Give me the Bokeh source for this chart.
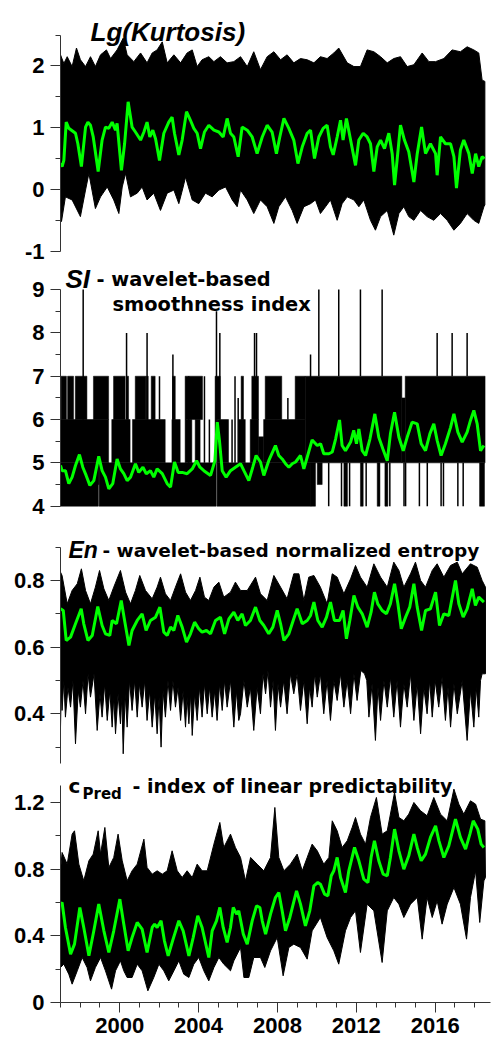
from bokeh.plotting import figure
from bokeh.layouts import column
from bokeh.models import Range1d, FixedTicker
from bokeh.core.properties import value
from bokeh.embed import file_html
from bokeh.resources import INLINE

# ---------------- values ----------------
X_TICKS = [2000, 2004, 2008, 2012, 2016]
X_MINOR = list(range(1997, 2019))
X_LABELS = ["2000", "2004", "2008", "2012", "2016"]

KURT_TICKS = [-1, 0, 1, 2]
KURT_MINOR = [-0.5, 0.5, 1.5, 2.5]
KURT_LABELS = ["-1", "0", "1", "2"]
SI_TICKS = [4, 5, 6, 7, 8, 9]
SI_MINOR = [4.5, 5.5, 6.5, 7.5, 8.5]
SI_LABELS = ["4", "5", "6", "7", "8", "9"]
EN_TICKS = [0.4, 0.6, 0.8]
EN_MINOR = [0.3, 0.5, 0.7, 0.9]
EN_LABELS = ["0.4", "0.6", "0.8"]
CP_TICKS = [0, 0.4, 0.8, 1.2]
CP_MINOR = [0.2, 0.6, 1.0]
CP_LABELS = ["0", "0.4", "0.8", "1.2"]

# Lg(Kurtosis): upper / lower edge of the daily black band, and the green smoothed curve
K_HI = [(1997.0, 2.18), (1997.17, 2.04), (1997.34, 2.15), (1997.59, 1.99), (1997.81, 2.29), (1998.01, 2.10),
        (1998.27, 1.99), (1998.52, 2.15), (1998.77, 1.99), (1999.03, 2.18), (1999.33, 2.26), (1999.54, 2.12),
        (1999.87, 2.26), (2000.18, 2.45), (2000.38, 2.18), (2000.72, 2.07), (2001.06, 2.21), (2001.39, 2.05),
        (2001.65, 2.21), (2001.9, 2.26), (2002.16, 2.39), (2002.41, 2.05), (2002.75, 2.18), (2003.09, 2.05),
        (2003.42, 2.21), (2003.68, 2.26), (2003.93, 1.99), (2004.18, 2.10), (2004.52, 2.15), (2004.78, 2.07),
        (2005.11, 2.15), (2005.45, 2.05), (2005.79, 2.07), (2006.13, 2.15), (2006.47, 1.99), (2006.8, 2.23),
        (2007.14, 1.94), (2007.48, 2.15), (2007.82, 2.23), (2008.16, 2.10), (2008.49, 2.18), (2008.83, 2.05),
        (2009.17, 2.12), (2009.51, 2.10), (2009.85, 2.05), (2010.18, 2.15), (2010.52, 2.12), (2010.86, 2.21),
        (2011.11, 2.29), (2011.54, 2.05), (2011.88, 1.99), (2012.21, 1.99), (2012.55, 2.26), (2012.89, 2.23),
        (2013.23, 2.15), (2013.57, 2.05), (2013.9, 2.12), (2014.24, 2.15), (2014.58, 1.99), (2014.92, 2.02),
        (2015.34, 2.21), (2015.68, 2.07), (2016.02, 2.07), (2016.44, 2.12), (2016.86, 2.26), (2017.28, 2.23),
        (2017.62, 2.31), (2017.96, 2.26), (2018.21, 2.21), (2018.38, 1.77), (2018.52, 1.75)]
K_LO = [(1997.0, -0.23), (1997.05, -0.52), (1997.25, -0.12), (1997.59, -0.17), (1998.01, -0.44), (1998.27, -0.01),
        (1998.44, 0.26), (1998.77, -0.31), (1999.03, -0.12), (1999.37, 0.04), (1999.7, -0.17), (1999.96, -0.39),
        (2000.13, 0.04), (2000.3, 0.26), (2000.55, -0.12), (2000.89, -0.06), (2001.14, 0.04), (2001.39, -0.17),
        (2001.73, -0.06), (2002.07, -0.34), (2002.41, -0.06), (2002.75, -0.01), (2003.0, -0.23), (2003.22, 0.04),
        (2003.34, 0.2), (2003.68, -0.17), (2004.01, -0.23), (2004.35, -0.06), (2004.69, -0.12), (2005.03, -0.01),
        (2005.37, 0.04), (2005.71, -0.17), (2005.96, -0.28), (2006.13, -0.01), (2006.47, -0.17), (2006.8, -0.39),
        (2007.14, -0.17), (2007.48, -0.28), (2007.82, -0.55), (2008.07, -0.28), (2008.41, -0.12), (2008.75, -0.34),
        (2009.0, -0.55), (2009.34, -0.28), (2009.68, -0.23), (2009.93, -0.17), (2010.18, -0.39), (2010.44, -0.28),
        (2010.69, -0.17), (2011.03, -0.5), (2011.28, -0.23), (2011.54, -0.12), (2011.88, -0.17), (2012.13, -0.28),
        (2012.38, -0.17), (2012.72, -0.5), (2012.97, -0.66), (2013.23, -0.44), (2013.57, -0.34), (2013.9, -0.74),
        (2014.16, -0.39), (2014.41, -0.28), (2014.66, -0.44), (2014.92, -0.5), (2015.26, -0.34), (2015.59, -0.44),
        (2015.93, -0.5), (2016.27, -0.39), (2016.61, -0.5), (2016.95, -0.66), (2017.28, -0.55), (2017.62, -0.39),
        (2017.96, -0.5), (2018.21, -0.55), (2018.47, -0.28), (2018.52, -0.25)]
K_SM = [(1997.0, 0.42), (1997.08, 0.37), (1997.17, 0.47), (1997.29, 1.09), (1997.42, 0.99), (1997.76, 0.91),
        (1997.88, 0.74), (1998.06, 0.37), (1998.27, 1.01), (1998.39, 1.09), (1998.52, 1.04), (1998.66, 0.85),
        (1998.91, 0.29), (1999.11, 0.80), (1999.28, 1.01), (1999.45, 0.99), (1999.62, 1.09), (1999.79, 0.96),
        (1999.87, 1.07), (2000.09, 0.31), (2000.25, 0.74), (2000.43, 1.42), (2000.63, 1.01), (2000.80, 0.93),
        (2001.06, 0.80), (2001.23, 0.93), (2001.39, 1.09), (2001.53, 0.85), (2001.68, 0.96), (2001.82, 0.82),
        (2002.02, 0.47), (2002.24, 0.91), (2002.49, 1.09), (2002.66, 1.17), (2002.78, 0.91), (2003.0, 0.56),
        (2003.17, 0.80), (2003.39, 1.26), (2003.59, 1.12), (2003.76, 0.99), (2003.93, 0.91), (2004.10, 0.66),
        (2004.30, 0.93), (2004.52, 1.04), (2004.78, 0.96), (2005.03, 0.93), (2005.25, 0.85), (2005.45, 1.15),
        (2005.62, 0.91), (2005.79, 0.85), (2006.01, 0.53), (2006.21, 1.01), (2006.47, 0.96), (2006.72, 0.85),
        (2006.97, 0.58), (2007.23, 0.85), (2007.48, 1.04), (2007.73, 0.93), (2007.95, 0.58), (2008.12, 0.85),
        (2008.33, 1.15), (2008.58, 0.99), (2008.83, 0.80), (2009.04, 0.42), (2009.26, 0.69), (2009.51, 0.91),
        (2009.68, 0.96), (2009.88, 0.50), (2010.10, 0.85), (2010.32, 0.99), (2010.52, 1.04), (2010.69, 0.69),
        (2010.83, 0.56), (2011.03, 0.85), (2011.20, 1.12), (2011.33, 0.80), (2011.50, 1.15), (2011.71, 0.80),
        (2011.96, 0.39), (2012.13, 0.80), (2012.35, 0.91), (2012.55, 0.85), (2012.72, 0.74), (2012.89, 0.29),
        (2013.06, 0.69), (2013.23, 0.80), (2013.43, 0.66), (2013.65, 0.91), (2013.82, 0.58), (2013.94, 0.07),
        (2014.07, 0.48), (2014.24, 1.04), (2014.44, 0.80), (2014.66, 0.61), (2014.92, 0.12), (2015.09, 0.58),
        (2015.31, 1.01), (2015.51, 0.58), (2015.76, 0.74), (2016.02, 0.58), (2016.10, 0.23), (2016.27, 0.85),
        (2016.52, 0.74), (2016.78, 0.74), (2016.95, 0.53), (2017.08, 0.02), (2017.28, 0.64), (2017.45, 0.80),
        (2017.71, 0.58), (2017.88, 0.26), (2018.05, 0.58), (2018.21, 0.37), (2018.38, 0.53), (2018.50, 0.50)]

# SI (integer valued): solid black blocks (left, right, bottom, top) and single spikes (time, from, to)
SI_BLOCKS = [(1997.0, 1998.92, 4, 5), (1998.92, 1998.96, 4.5, 5), (1998.96, 2004.90, 4, 5), (2004.94, 2009.70, 4, 5),
             (1997.0, 1999.44, 5, 6), (1999.60, 2000.53, 5, 6), (2000.65, 2002.31, 5, 6), (2002.65, 2003.07, 5, 6),
             (2003.32, 2003.66, 5, 6), (2003.83, 2004.08, 5, 6), (2004.84, 2004.90, 5, 6), (2004.90, 2004.94, 5.9, 6),
             (2004.94, 2005.52, 5, 6), (2006.03, 2006.37, 5, 6), (2006.62, 2007.04, 5, 6), (2007.04, 2007.30, 5, 5.6),
             (2007.30, 2009.41, 5, 6), (2009.41, 2014.31, 5, 7), (2014.31, 2014.48, 5, 6.5), (2014.48, 2018.53, 5, 7),
             (1997.03, 1997.30, 6, 7), (1997.36, 1997.66, 6, 7), (1997.75, 1998.34, 6, 7), (1998.67, 1999.44, 6, 7),
             (1999.69, 2000.28, 6, 7), (2000.35, 2000.45, 6, 7), (2000.79, 2001.33, 6, 7), (2001.35, 2001.45, 6, 7),
             (2001.60, 2001.80, 6, 7), (2002.68, 2002.82, 6, 7), (2003.32, 2004.20, 6, 7), (2004.84, 2005.10, 6, 7),
             (2006.16, 2006.28, 6, 7), (2006.70, 2007.04, 6, 7), (2007.38, 2008.22, 6, 7), (2008.90, 2009.41, 6, 7),
             (2009.70, 2009.93, 4, 5), (2010.02, 2010.27, 4.5, 5), (2011.37, 2011.55, 4, 5), (2012.21, 2012.35, 4, 5),
             (2013.06, 2013.20, 4, 5), (2013.45, 2013.60, 4, 5), (2018.25, 2018.50, 4, 5)]
SI_SPIKES = [(1998.15, 6, 9), (2000.35, 6, 8), (2001.39, 6, 8), (2002.70, 6, 7.5), (2004.91, 6, 8.5), (2005.08, 6, 8),
             (2006.01, 5, 6.5), (2006.84, 6, 8), (2006.94, 6, 8), (2008.53, 6, 6.5), (2009.68, 6, 7.5), (2010.10, 7, 9),
             (2011.11, 7, 9), (2012.21, 7, 9), (2013.31, 7, 9), (2016.10, 7, 8), (2016.86, 7, 8), (2017.62, 7, 8),
             (2004.30, 5, 7), (2004.55, 5, 6), (2005.70, 5, 6), (2005.85, 5, 7), (2002.02, 6, 7), (2003.50, 5, 7),
             (2010.60, 4, 5), (2011.25, 4, 5), (2011.66, 4, 5), (2012.50, 4, 5), (2013.70, 4, 5), (2014.42, 4, 5),
             (2014.50, 4, 5), (2015.20, 4, 5), (2015.60, 4, 5), (2016.30, 4, 5), (2016.42, 4, 5), (2017.15, 4, 5),
             (2017.42, 4, 5)]
SI_SM = [(1997.0, 4.94), (1997.08, 4.82), (1997.25, 4.82), (1997.42, 4.52), (1997.59, 4.67), (1997.76, 4.94),
         (1997.96, 5.19), (1998.13, 4.90), (1998.30, 4.71), (1998.49, 4.48), (1998.69, 4.59), (1998.94, 5.15),
         (1999.11, 4.82), (1999.28, 4.67), (1999.45, 4.40), (1999.65, 4.52), (1999.87, 5.09), (2000.04, 4.86),
         (2000.21, 4.75), (2000.38, 4.59), (2000.55, 4.67), (2000.80, 4.98), (2000.97, 4.78), (2001.18, 4.90),
         (2001.35, 4.75), (2001.56, 4.82), (2001.73, 4.67), (2001.90, 4.86), (2002.16, 4.75), (2002.41, 4.52),
         (2002.58, 4.44), (2002.78, 5.02), (2002.97, 4.78), (2003.17, 4.78), (2003.42, 4.75), (2003.68, 4.86),
         (2003.90, 5.05), (2004.07, 4.90), (2004.27, 4.82), (2004.61, 4.71), (2004.83, 5.05), (2004.95, 5.94),
         (2005.06, 5.52), (2005.20, 4.82), (2005.40, 4.67), (2005.62, 4.82), (2005.87, 4.90), (2006.13, 4.98),
         (2006.30, 4.82), (2006.55, 4.59), (2006.75, 4.90), (2006.92, 5.17), (2007.14, 5.02), (2007.31, 4.71),
         (2007.56, 5.05), (2007.90, 5.40), (2008.07, 5.17), (2008.24, 5.09), (2008.41, 4.98), (2008.58, 4.90),
         (2008.75, 4.98), (2008.92, 5.02), (2009.17, 5.17), (2009.34, 4.86), (2009.51, 5.13), (2009.76, 5.53),
         (2010.02, 5.40), (2010.19, 5.44), (2010.35, 5.21), (2010.61, 5.21), (2010.78, 5.25), (2010.95, 5.55),
         (2011.15, 5.99), (2011.28, 5.40), (2011.45, 5.28), (2011.71, 5.48), (2011.87, 5.75), (2012.01, 5.44),
         (2012.13, 5.78), (2012.30, 5.28), (2012.47, 5.17), (2012.69, 5.55), (2012.94, 6.13), (2013.14, 5.59),
         (2013.35, 5.32), (2013.57, 5.05), (2013.73, 5.67), (2013.94, 6.17), (2014.16, 5.59), (2014.38, 5.28),
         (2014.58, 5.59), (2014.83, 5.94), (2015.09, 5.90), (2015.29, 5.44), (2015.51, 5.28), (2015.73, 5.67),
         (2015.93, 5.90), (2016.10, 5.52), (2016.30, 5.17), (2016.52, 5.44), (2016.78, 5.82), (2016.95, 6.13),
         (2017.15, 5.71), (2017.37, 5.48), (2017.62, 5.71), (2017.79, 5.98), (2017.96, 6.21), (2018.13, 5.90),
         (2018.30, 5.28), (2018.47, 5.40)]

# En: normalized entropy
EN_HI = [(1997.0, 0.825), (1997.08, 0.815), (1997.34, 0.73), (1997.59, 0.77), (1997.85, 0.79), (1998.06, 0.835),
         (1998.27, 0.77), (1998.52, 0.73), (1998.77, 0.78), (1998.98, 0.83), (1999.2, 0.775), (1999.45, 0.74),
         (1999.7, 0.78), (2000.04, 0.83), (2000.3, 0.765), (2000.55, 0.73), (2000.8, 0.77), (2001.02, 0.815),
         (2001.31, 0.77), (2001.65, 0.745), (2001.9, 0.78), (2002.07, 0.81), (2002.32, 0.76), (2002.58, 0.74),
         (2002.83, 0.78), (2003.09, 0.82), (2003.34, 0.765), (2003.59, 0.74), (2003.85, 0.77), (2004.07, 0.81),
         (2004.3, 0.75), (2004.52, 0.74), (2004.78, 0.78), (2005.03, 0.795), (2005.28, 0.75), (2005.62, 0.765),
         (2005.87, 0.795), (2006.13, 0.77), (2006.47, 0.77), (2006.89, 0.81), (2007.14, 0.76), (2007.48, 0.74),
         (2007.82, 0.815), (2008.16, 0.78), (2008.49, 0.745), (2008.83, 0.82), (2009.09, 0.82), (2009.34, 0.74),
         (2009.59, 0.81), (2009.85, 0.815), (2010.18, 0.78), (2010.52, 0.73), (2010.78, 0.82), (2011.03, 0.81),
         (2011.37, 0.76), (2011.71, 0.805), (2011.96, 0.845), (2012.21, 0.81), (2012.55, 0.78), (2012.89, 0.85),
         (2013.23, 0.81), (2013.57, 0.78), (2013.9, 0.855), (2014.16, 0.83), (2014.41, 0.78), (2014.75, 0.82),
         (2015.0, 0.855), (2015.26, 0.80), (2015.51, 0.78), (2015.85, 0.83), (2016.1, 0.85), (2016.44, 0.81),
         (2016.78, 0.845), (2017.12, 0.855), (2017.37, 0.82), (2017.79, 0.85), (2018.13, 0.84), (2018.38, 0.80),
         (2018.55, 0.78)]
# lower edge: deepest daily dips alternating with the tops of the white notches between them
EN_LO = [(1997.0, 0.36), (1997.04, 0.47), (1997.08, 0.41), (1997.17, 0.50), (1997.25, 0.39), (1997.38, 0.48),
         (1997.51, 0.42), (1997.63, 0.50), (1997.76, 0.31), (1997.9, 0.47), (1998.01, 0.42), (1998.14, 0.50),
         (1998.27, 0.40), (1998.4, 0.52), (1998.52, 0.45), (1998.7, 0.52), (1998.86, 0.35), (1999.0, 0.46),
         (1999.11, 0.39), (1999.24, 0.49), (1999.37, 0.38), (1999.5, 0.47), (1999.62, 0.36), (1999.7, 0.45),
         (1999.79, 0.34), (1999.92, 0.46), (2000.04, 0.37), (2000.11, 0.45), (2000.18, 0.28), (2000.28, 0.46),
         (2000.38, 0.36), (2000.5, 0.50), (2000.63, 0.41), (2000.76, 0.50), (2000.89, 0.39), (2001.0, 0.49),
         (2001.14, 0.42), (2001.27, 0.50), (2001.39, 0.38), (2001.52, 0.47), (2001.65, 0.36), (2001.78, 0.46),
         (2001.9, 0.34), (2002.0, 0.45), (2002.1, 0.30), (2002.2, 0.47), (2002.32, 0.39), (2002.45, 0.50),
         (2002.58, 0.41), (2002.7, 0.50), (2002.83, 0.42), (2002.96, 0.48), (2003.09, 0.38), (2003.22, 0.47),
         (2003.34, 0.36), (2003.42, 0.45), (2003.51, 0.37), (2003.6, 0.46), (2003.68, 0.335), (2003.8, 0.46),
         (2003.93, 0.38), (2004.05, 0.48), (2004.18, 0.39), (2004.3, 0.49), (2004.44, 0.40), (2004.56, 0.48),
         (2004.69, 0.39), (2004.82, 0.47), (2004.94, 0.38), (2005.07, 0.49), (2005.2, 0.41), (2005.32, 0.50),
         (2005.45, 0.42), (2005.62, 0.50), (2005.79, 0.36), (2005.92, 0.47), (2006.04, 0.38), (2006.13, 0.40),
         (2006.3, 0.50), (2006.47, 0.42), (2006.63, 0.48), (2006.8, 0.35), (2006.97, 0.48), (2007.14, 0.40),
         (2007.27, 0.52), (2007.4, 0.46), (2007.52, 0.53), (2007.65, 0.42), (2007.78, 0.50), (2007.9, 0.35),
         (2008.03, 0.49), (2008.16, 0.42), (2008.32, 0.50), (2008.49, 0.40), (2008.66, 0.52), (2008.83, 0.46),
         (2009.0, 0.52), (2009.17, 0.41), (2009.34, 0.50), (2009.51, 0.37), (2009.63, 0.48), (2009.76, 0.42),
         (2009.89, 0.52), (2010.02, 0.45), (2010.18, 0.52), (2010.35, 0.40), (2010.52, 0.50), (2010.69, 0.38),
         (2010.86, 0.50), (2011.03, 0.44), (2011.2, 0.52), (2011.37, 0.42), (2011.54, 0.50), (2011.71, 0.40),
         (2011.88, 0.52), (2012.04, 0.44), (2012.23, 0.53), (2012.42, 0.52), (2012.53, 0.50), (2012.64, 0.39),
         (2012.8, 0.49), (2012.97, 0.32), (2013.1, 0.48), (2013.23, 0.38), (2013.4, 0.50), (2013.57, 0.42),
         (2013.73, 0.51), (2013.9, 0.39), (2014.07, 0.50), (2014.24, 0.36), (2014.41, 0.49), (2014.58, 0.42),
         (2014.75, 0.52), (2014.92, 0.38), (2015.09, 0.49), (2015.26, 0.34), (2015.42, 0.48), (2015.59, 0.40),
         (2015.72, 0.50), (2015.85, 0.39), (2016.0, 0.50), (2016.18, 0.42), (2016.35, 0.51), (2016.52, 0.38),
         (2016.65, 0.48), (2016.78, 0.36), (2016.95, 0.49), (2017.12, 0.40), (2017.37, 0.50), (2017.62, 0.32),
         (2017.79, 0.47), (2017.96, 0.36), (2018.08, 0.48), (2018.21, 0.39), (2018.3, 0.50), (2018.38, 0.52),
         (2018.55, 0.52)]
EN_SM = [(1997.0, 0.715), (1997.14, 0.71), (1997.29, 0.62), (1997.51, 0.63), (1997.76, 0.67), (1998.05, 0.715),
         (1998.18, 0.67), (1998.39, 0.62), (1998.61, 0.635), (1998.89, 0.722), (1999.11, 0.665), (1999.28, 0.64),
         (1999.5, 0.635), (1999.62, 0.68), (1999.84, 0.67), (2000.08, 0.74), (2000.25, 0.68), (2000.47, 0.605),
         (2000.63, 0.65), (2000.89, 0.68), (2001.14, 0.70), (2001.34, 0.65), (2001.56, 0.68), (2001.82, 0.69),
         (2002.04, 0.72), (2002.24, 0.645), (2002.41, 0.635), (2002.58, 0.66), (2002.75, 0.65), (2002.95, 0.695),
         (2003.17, 0.66), (2003.39, 0.615), (2003.59, 0.64), (2003.8, 0.675), (2004.01, 0.655), (2004.18, 0.645),
         (2004.4, 0.65), (2004.61, 0.64), (2004.86, 0.68), (2005.11, 0.69), (2005.32, 0.64), (2005.54, 0.685),
         (2005.79, 0.705), (2005.99, 0.68), (2006.21, 0.70), (2006.38, 0.665), (2006.63, 0.68), (2006.89, 0.72),
         (2007.11, 0.68), (2007.31, 0.665), (2007.56, 0.64), (2007.77, 0.66), (2007.99, 0.71), (2008.16, 0.67),
         (2008.33, 0.62), (2008.58, 0.64), (2008.8, 0.68), (2009.0, 0.715), (2009.26, 0.67), (2009.51, 0.68),
         (2009.68, 0.695), (2009.85, 0.735), (2010.05, 0.68), (2010.27, 0.66), (2010.49, 0.69), (2010.69, 0.735),
         (2010.89, 0.68), (2011.15, 0.68), (2011.33, 0.71), (2011.5, 0.625), (2011.67, 0.68), (2011.88, 0.755),
         (2012.08, 0.72), (2012.3, 0.70), (2012.55, 0.66), (2012.75, 0.705), (2012.92, 0.765), (2013.09, 0.73),
         (2013.31, 0.71), (2013.53, 0.70), (2013.73, 0.73), (2013.94, 0.79), (2014.11, 0.73), (2014.28, 0.655),
         (2014.5, 0.69), (2014.71, 0.72), (2014.92, 0.79), (2015.09, 0.72), (2015.31, 0.65), (2015.51, 0.71),
         (2015.76, 0.715), (2016.02, 0.765), (2016.22, 0.665), (2016.44, 0.70), (2016.69, 0.695), (2017.03, 0.80),
         (2017.2, 0.73), (2017.42, 0.69), (2017.62, 0.715), (2017.88, 0.775), (2018.04, 0.725), (2018.21, 0.75),
         (2018.47, 0.735)]

# cPred: index of linear predictability
CP_HI = [(1997.0, 0.79), (1997.08, 0.90), (1997.34, 0.83), (1997.59, 1.01), (1997.71, 1.03), (1997.93, 0.83),
         (1998.18, 0.73), (1998.44, 0.85), (1998.66, 0.89), (1998.91, 1.03), (1999.03, 0.89), (1999.25, 1.05),
         (1999.45, 0.81), (1999.7, 0.87), (1999.92, 1.01), (2000.13, 0.85), (2000.38, 0.73), (2000.63, 0.79),
         (2000.89, 0.83), (2001.23, 0.98), (2001.39, 0.81), (2001.65, 0.77), (2001.9, 0.79), (2002.16, 0.77),
         (2002.41, 0.79), (2002.66, 0.91), (2002.92, 0.79), (2003.17, 0.75), (2003.42, 0.79), (2003.68, 0.75),
         (2003.93, 0.83), (2004.18, 0.79), (2004.44, 0.79), (2004.78, 0.95), (2005.08, 1.08), (2005.28, 0.93),
         (2005.62, 1.01), (2005.87, 0.93), (2006.13, 0.87), (2006.38, 0.73), (2006.64, 0.87), (2006.97, 0.83),
         (2007.31, 0.79), (2007.65, 0.87), (2007.87, 1.17), (2008.07, 0.87), (2008.33, 0.79), (2008.66, 0.83),
         (2009.0, 0.89), (2009.26, 0.79), (2009.51, 0.87), (2009.76, 0.95), (2010.02, 0.91), (2010.35, 0.83),
         (2010.61, 0.87), (2010.78, 1.09), (2011.03, 1.03), (2011.28, 0.93), (2011.54, 0.97), (2011.79, 1.05),
         (2011.96, 1.11), (2012.21, 1.01), (2012.47, 0.95), (2012.72, 1.11), (2013.02, 1.23), (2013.31, 1.01),
         (2013.57, 1.03), (2013.94, 1.26), (2014.16, 1.11), (2014.41, 1.09), (2014.66, 1.13), (2014.92, 1.20),
         (2015.26, 1.15), (2015.59, 1.12), (2015.93, 1.23), (2016.27, 1.13), (2016.61, 1.09), (2016.95, 1.28),
         (2017.2, 1.19), (2017.45, 1.13), (2017.79, 1.21), (2018.05, 1.19), (2018.3, 1.10), (2018.52, 1.09)]
CP_LO = [(1997.0, 0.21), (1997.17, 0.23), (1997.42, 0.17), (1997.59, 0.11), (1997.85, 0.19), (1998.1, 0.27),
         (1998.35, 0.21), (1998.52, 0.13), (1998.77, 0.21), (1999.03, 0.27), (1999.28, 0.19), (1999.59, 0.08),
         (1999.79, 0.19), (2000.04, 0.25), (2000.21, 0.19), (2000.38, 0.15), (2000.63, 0.15), (2000.89, 0.23),
         (2001.14, 0.19), (2001.43, 0.07), (2001.73, 0.15), (2001.99, 0.23), (2002.24, 0.19), (2002.49, 0.13),
         (2002.75, 0.19), (2003.0, 0.25), (2003.25, 0.17), (2003.51, 0.15), (2003.76, 0.23), (2004.01, 0.27),
         (2004.27, 0.19), (2004.52, 0.13), (2004.78, 0.21), (2005.03, 0.27), (2005.28, 0.23), (2005.62, 0.19),
         (2005.79, 0.25), (2006.13, 0.33), (2006.3, 0.15), (2006.55, 0.15), (2006.8, 0.27), (2007.14, 0.27),
         (2007.36, 0.21), (2007.65, 0.31), (2007.99, 0.39), (2008.29, 0.16), (2008.58, 0.33), (2008.83, 0.35),
         (2009.17, 0.33), (2009.51, 0.26), (2009.76, 0.43), (2010.18, 0.51), (2010.52, 0.39), (2010.86, 0.31),
         (2011.11, 0.23), (2011.45, 0.43), (2011.71, 0.51), (2011.96, 0.55), (2012.21, 0.30), (2012.55, 0.59),
         (2012.89, 0.55), (2013.31, 0.24), (2013.57, 0.55), (2013.9, 0.63), (2014.16, 0.59), (2014.41, 0.51),
         (2014.75, 0.59), (2015.09, 0.63), (2015.34, 0.38), (2015.59, 0.63), (2015.85, 0.51), (2016.1, 0.61),
         (2016.35, 0.47), (2016.61, 0.59), (2016.95, 0.69), (2017.28, 0.59), (2017.59, 0.38), (2017.79, 0.63),
         (2018.05, 0.79), (2018.26, 0.48), (2018.47, 0.73), (2018.55, 0.75)]
CP_SM = [(1997.0, 0.59), (1997.08, 0.60), (1997.25, 0.45), (1997.51, 0.29), (1997.71, 0.35), (1997.98, 0.57),
         (1998.18, 0.45), (1998.44, 0.28), (1998.69, 0.43), (1998.94, 0.59), (1999.2, 0.43), (1999.45, 0.30),
         (1999.7, 0.43), (2000.01, 0.62), (2000.21, 0.47), (2000.43, 0.31), (2000.63, 0.39), (2000.89, 0.48),
         (2001.14, 0.44), (2001.39, 0.30), (2001.65, 0.45), (2001.77, 0.47), (2001.9, 0.45), (2002.1, 0.49),
         (2002.27, 0.37), (2002.46, 0.28), (2002.71, 0.38), (2003.0, 0.49), (2003.22, 0.43), (2003.51, 0.28),
         (2003.73, 0.39), (2003.96, 0.52), (2004.18, 0.45), (2004.52, 0.27), (2004.69, 0.43), (2004.91, 0.49),
         (2005.08, 0.57), (2005.25, 0.45), (2005.45, 0.36), (2005.62, 0.45), (2005.76, 0.57), (2005.93, 0.53),
         (2006.04, 0.55), (2006.27, 0.41), (2006.47, 0.35), (2006.72, 0.49), (2006.94, 0.58), (2007.11, 0.57),
         (2007.23, 0.49), (2007.4, 0.41), (2007.65, 0.53), (2007.9, 0.63), (2008.07, 0.66), (2008.24, 0.55),
         (2008.41, 0.43), (2008.63, 0.51), (2008.8, 0.59), (2008.97, 0.67), (2009.17, 0.59), (2009.42, 0.46),
         (2009.64, 0.55), (2009.85, 0.70), (2010.05, 0.72), (2010.18, 0.71), (2010.39, 0.65), (2010.56, 0.64),
         (2010.73, 0.76), (2010.86, 0.79), (2011.03, 0.87), (2011.2, 0.75), (2011.45, 0.66), (2011.62, 0.79),
         (2011.91, 0.93), (2012.13, 0.85), (2012.38, 0.74), (2012.59, 0.72), (2012.75, 0.87), (2012.92, 0.97),
         (2013.14, 0.85), (2013.36, 0.77), (2013.57, 0.76), (2013.73, 0.87), (2013.94, 1.04), (2014.16, 0.91),
         (2014.41, 0.80), (2014.66, 0.88), (2014.92, 1.01), (2015.09, 0.93), (2015.29, 0.85), (2015.51, 0.89),
         (2015.76, 0.99), (2016.02, 1.06), (2016.19, 0.97), (2016.44, 0.87), (2016.69, 0.94), (2017.03, 1.10),
         (2017.28, 0.99), (2017.54, 0.92), (2017.76, 1.01), (2017.93, 1.09), (2018.16, 1.04), (2018.33, 0.95),
         (2018.47, 0.93)]

# ---------------- layout / style ----------------
W = 493
LEFT = 60
FRAME_W = 430
X_START = 1997.0
X_END = 1997.0 + FRAME_W / 19.72
GREEN = "#00ff00"
AXIS_COL = "#333333"
TICK_FONT = "Liberation Sans"
TITLE_FONT = "DejaVu Sans"
TITLE_SIZE = "19.4px"


def tx(px):
    return X_START + (px - LEFT) * (X_END - X_START) / FRAME_W


def make_fig(page_top, height, frame_h, ylo_page, ylo, px_per_unit, bottom=0, xaxis=False,
             overlap=0, transparent=False):
    # y range chosen so that value `ylo` sits at page row `ylo_page`
    frame_bottom = page_top + frame_h
    y_start = ylo - (frame_bottom - ylo_page) / px_per_unit
    y_end = y_start + frame_h / px_per_unit
    kw = dict(width=W, height=height, x_range=Range1d(X_START, X_END), y_range=Range1d(y_start, y_end),
              output_backend="svg", toolbar_location=None,
              min_border_left=LEFT, min_border_right=W - LEFT - FRAME_W,
              min_border_top=0, min_border_bottom=bottom)
    if overlap:
        kw["margin"] = (-overlap, 0, 0, 0)
    if not xaxis:
        kw["x_axis_type"] = None
    p = figure(**kw)
    p.grid.visible = False
    p.outline_line_color = None
    if transparent:
        p.background_fill_color = None
        p.border_fill_color = None
    else:
        p.background_fill_color = "white"
        p.border_fill_color = "white"

    def ty(py):
        return y_end - (py - page_top) / px_per_unit
    return p, ty


def style_axis(ax, ticks, minor, labels, bounds, standoff):
    ax.ticker = FixedTicker(ticks=ticks, minor_ticks=minor)
    ax.major_label_overrides = {t: l for t, l in zip(ticks, labels)}
    ax.bounds = bounds
    ax.axis_line_color = AXIS_COL
    ax.axis_line_width = 1
    ax.major_tick_line_color = AXIS_COL
    ax.minor_tick_line_color = AXIS_COL
    ax.major_tick_out = 10
    ax.major_tick_in = 0
    ax.minor_tick_out = 5
    ax.minor_tick_in = 0
    ax.major_label_text_font = TICK_FONT
    ax.major_label_text_font_style = "bold"
    ax.major_label_text_font_size = "22px"
    ax.major_label_text_color = "black"
    ax.major_label_standoff = standoff


def band(p, hi, lo):
    xs = [t for t, _ in hi] + [t for t, _ in reversed(lo)]
    ys = [v for _, v in hi] + [v for _, v in reversed(lo)]
    p.patch(xs, ys, fill_color="black", line_color="black", line_width=1)


def smooth(p, pts):
    p.line([t for t, _ in pts], [v for _, v in pts], line_color=GREEN, line_width=3)


def put_text(p, x, y, txt, size, style="bold", font=TITLE_FONT):
    p.text(x=[x], y=[y], text=[txt], text_font=value(font), text_font_style=style,
           text_font_size=size, text_color="black", text_align="left", text_baseline="alphabetic")


# Panel 1: Lg(Kurtosis)   page rows 0..268
p1, ty1 = make_fig(0, 268, 268, 250.7, -1.0, 61.75)
style_axis(p1.yaxis[0], KURT_TICKS, KURT_MINOR, KURT_LABELS, (-1, 2.5), 6)
band(p1, K_HI, K_LO)
smooth(p1, K_SM)
put_text(p1, tx(90), ty1(31.5), "Lg(Kurtosis)", "26px", "bold italic", TICK_FONT)

# Panel 2: SI   page rows 258..520 (overlaps panel 1 by 10 rows, transparent)
p2, ty2 = make_fig(258, 262, 262, 505.7, 4.0, 43.33, overlap=10, transparent=True)
style_axis(p2.yaxis[0], SI_TICKS, SI_MINOR, SI_LABELS, (4, 9), 6)
p2.quad(left=[b[0] for b in SI_BLOCKS], right=[b[1] for b in SI_BLOCKS],
        bottom=[b[2] for b in SI_BLOCKS], top=[b[3] for b in SI_BLOCKS],
        fill_color="black", line_color="black", line_width=0.5)
p2.segment(x0=[s[0] for s in SI_SPIKES], y0=[s[1] for s in SI_SPIKES],
           x1=[s[0] for s in SI_SPIKES], y1=[s[2] for s in SI_SPIKES],
           line_color="black", line_width=1.5)
smooth(p2, SI_SM)
put_text(p2, tx(65), ty2(278.5), "SI", "26px", "bold italic", TICK_FONT)
put_text(p2, tx(96), ty2(278.5), "- wavelet-based", TITLE_SIZE)
put_text(p2, tx(112), ty2(303.5), "smoothness index", TITLE_SIZE)

# Panel 3: En   page rows 520..768
p3, ty3 = make_fig(520, 248, 248, 713.3, 0.4, 333.3)
style_axis(p3.yaxis[0], EN_TICKS, EN_MINOR, EN_LABELS, (0.25, 0.9), 6)
band(p3, EN_HI, EN_LO)
smooth(p3, EN_SM)
put_text(p3, tx(68), ty3(549.5), "En", "23px", "bold italic", TICK_FONT)
put_text(p3, tx(102), ty3(549.5), "- wavelet-based normalized entropy", "18.5px")

# Panel 4: cPred with the time axis   page rows 762..1043 (overlaps panel 3 by 6 rows)
p4, ty4 = make_fig(762, 281, 240, 1002.0, 0.0, 166.7, bottom=41, xaxis=True, overlap=6, transparent=True)
style_axis(p4.yaxis[0], CP_TICKS, CP_MINOR, CP_LABELS, (0, 1.3), 6)
style_axis(p4.xaxis[0], X_TICKS, X_MINOR, X_LABELS, (X_START, X_END), 5)
band(p4, CP_HI, CP_LO)
smooth(p4, CP_SM)
put_text(p4, tx(68), ty4(785.5), "c", "20px")
put_text(p4, tx(82), ty4(793), "Pred", "15px")
put_text(p4, tx(132), ty4(785.5), "- index of linear predictability", "19px")

layout = column(p1, p2, p3, p4, spacing=0)
html = file_html(layout, INLINE, "chart")
html = html.replace("<head>", "<head><style>html,body{margin:0;padding:0;background:white;}</style>", 1)
open("out.html", "w").write(html)
